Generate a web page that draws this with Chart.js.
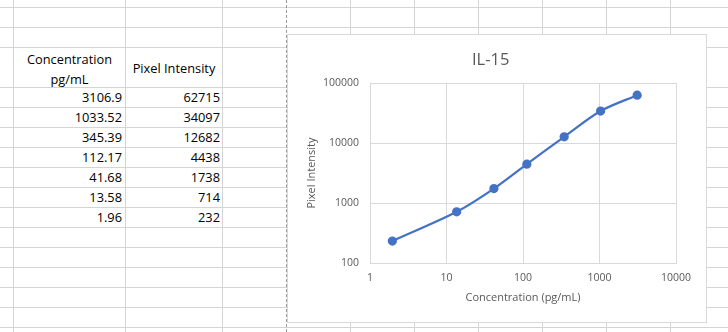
<!DOCTYPE html>
<html>
<head>
<meta charset="utf-8">
<script src="https://cdn.jsdelivr.net/npm/chart.js@4.4.1/dist/chart.umd.min.js"></script>
<style>
  html, body { margin: 0; padding: 0; background: #fff; }
  body { width: 728px; height: 332px; position: relative; overflow: hidden; font-family: "Open Sans", sans-serif; }
  .hl { position: absolute; height: 1px; background: #d4d4d4; }
  .vl { position: absolute; width: 1px; background: #d4d4d4; }
  .pb { position: absolute; width: 0; border-left: 1px dashed #9a9a9a; }
  .cell { position: absolute; font-size: 12.8px; line-height: 19px; color: #000; white-space: nowrap; }
  #card { position: absolute; left: 287px; top: 34px; width: 420px; height: 289px;
          box-sizing: border-box; border: 1px solid #d9d9d9; background: #fff; }
</style>
</head>
<body>
<div id="sheet"></div>
<div id="card"><canvas id="chart"></canvas></div>
<script>
// data
const concentration = [3106.9, 1033.52, 345.39, 112.17, 41.68, 13.58, 1.96];
const pixelIntensity = [62715, 34097, 12682, 4438, 1738, 714, 232];
const xTicks = [1, 10, 100, 1000, 10000];
const yTicks = [100, 1000, 10000, 100000];

// spreadsheet grid behind everything
const sheet = document.getElementById('sheet');
const rowLines = [7, 27, 47, 87];
for (let y = 107; y <= 327; y += 20) rowLines.push(y);
const colLines = [13, 125, 222, 350, 414, 478, 542, 606, 670];

rowLines.forEach(y => {
    const d = document.createElement('div');
    d.className = 'hl';
    d.style.cssText = `left:0;top:${y}px;width:728px`;
    sheet.appendChild(d);
});
colLines.forEach(x => {
    const d = document.createElement('div');
    d.className = 'vl';
    d.style.cssText = `left:${x}px;top:0;height:332px`;
    sheet.appendChild(d);
});
const pb = document.createElement('div');
pb.className = 'pb';
pb.style.cssText = 'left:286px;top:0;height:332px';
sheet.appendChild(pb);

function addCell(text, left, top, width, align) {
    const d = document.createElement('div');
    d.className = 'cell';
    d.style.cssText = `left:${left}px;top:${top}px;width:${width}px;text-align:${align}`;
    d.textContent = text;
    sheet.appendChild(d);
}
addCell('Concentration', 14, 50, 111, 'center');
addCell('pg/mL', 14, 70, 111, 'center');
addCell('Pixel Intensity', 126, 59, 96, 'center');
concentration.forEach((c, i) => {
    const top = 88 + i * 20;
    addCell(String(c), 14, top, 108, 'right');
    addCell(String(pixelIntensity[i]), 126, top, 94, 'right');
});

// chart
const ctx = document.getElementById('chart').getContext('2d');
const grey = '#595959';
const gridColor = '#d9d9d9';

new Chart(ctx, {
    type: 'line',
    data: {
        datasets: [{
            label: 'Pixel Intensity',
            data: concentration.map((c, i) => ({ x: c, y: pixelIntensity[i] })),
            borderColor: '#4472C4',
            backgroundColor: '#4472C4',
            borderWidth: 2.25,
            pointRadius: 3.5,
            pointHoverRadius: 3.5,
            tension: 0.3,
            fill: false
        }]
    },
    options: {
        responsive: true,
        maintainAspectRatio: false,
        animation: false,
        layout: { padding: { left: 17.4, right: 30, top: 0, bottom: 17.4 } },
        plugins: {
            legend: { display: false },
            tooltip: { enabled: false },
            title: {
                display: true,
                text: 'IL-15',
                color: grey,
                font: { family: 'Open Sans', size: 16.5, weight: 'normal' },
                padding: { top: 15.5, bottom: 12.7 }
            }
        },
        scales: {
            x: {
                type: 'logarithmic',
                min: 1,
                max: 10000,
                afterBuildTicks: s => { s.ticks = xTicks.map(v => ({ value: v })); },
                afterFit: s => { s.height = 41.6; },
                ticks: {
                    color: grey,
                    font: { family: 'Open Sans', size: 10.5 },
                    padding: 8.4,
                    maxRotation: 0,
                    callback: v => String(v)
                },
                grid: { color: gridColor, drawTicks: false },
                border: { color: gridColor },
                title: {
                    display: true,
                    text: 'Concentration (pg/mL)',
                    color: grey,
                    font: { family: 'Open Sans', size: 11 },
                    padding: 0
                }
            },
            y: {
                type: 'logarithmic',
                min: 100,
                max: 100000,
                afterBuildTicks: s => { s.ticks = yTicks.map(v => ({ value: v })); },
                afterFit: s => { s.width = 64.6; },
                ticks: {
                    color: grey,
                    font: { family: 'Open Sans', size: 10.5 },
                    padding: 11,
                    callback: v => String(v)
                },
                grid: { color: gridColor, drawTicks: false },
                border: { color: gridColor },
                title: {
                    display: true,
                    text: 'Pixel Intensity',
                    color: grey,
                    font: { family: 'Open Sans', size: 11 },
                    padding: 0
                }
            }
        }
    }
});
</script>
</body>
</html>
